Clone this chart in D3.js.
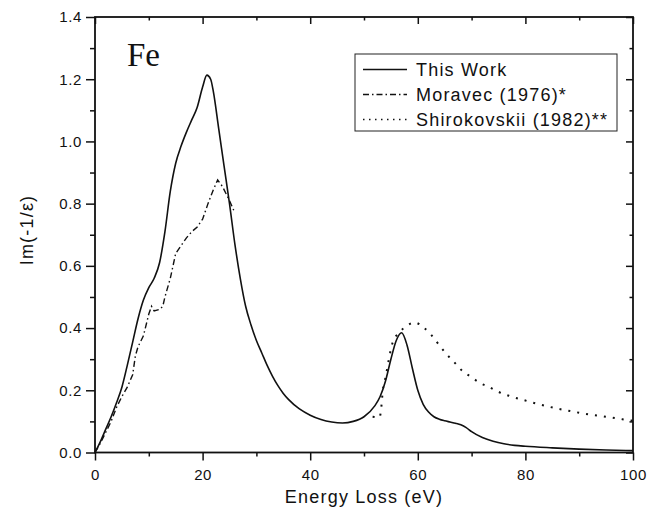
<!DOCTYPE html>
<html>
<head>
<meta charset="utf-8">
<script src="https://cdn.jsdelivr.net/npm/d3@7"></script>
<style>
  body { margin: 0; background: #fff; }
  svg { display: block; font-family: "Liberation Sans", Arial, Helvetica, sans-serif; }
</style>
</head>
<body>
<div id="chart"></div>
<script>
// "This Work" curve
const workE = [0, 1, 2, 3, 4, 5, 6, 7, 8, 9, 10, 11, 12, 13, 14, 15, 16, 17, 18, 19, 20, 20.8, 21.5, 22, 23, 24, 25, 26, 27, 28, 29, 30, 31, 32, 33, 34, 35, 36, 38, 40, 42, 44, 46, 48, 50, 52, 53, 54, 55, 56, 57, 58, 59, 60, 61, 62, 63, 64, 65, 66, 67, 68, 69, 70, 72, 74, 76, 78, 80, 85, 90, 95, 100];
const workV = [0, 0.035, 0.075, 0.115, 0.16, 0.21, 0.28, 0.355, 0.43, 0.49, 0.53, 0.56, 0.61, 0.71, 0.84, 0.93, 0.985, 1.03, 1.07, 1.11, 1.175, 1.213, 1.2, 1.16, 1.04, 0.92, 0.8, 0.67, 0.56, 0.47, 0.41, 0.36, 0.32, 0.28, 0.245, 0.215, 0.19, 0.17, 0.14, 0.12, 0.106, 0.098, 0.095, 0.1, 0.115, 0.15, 0.18, 0.23, 0.3, 0.36, 0.385, 0.345, 0.27, 0.2, 0.155, 0.13, 0.115, 0.107, 0.102, 0.098, 0.094, 0.089, 0.08, 0.067, 0.048, 0.036, 0.028, 0.023, 0.02, 0.015, 0.011, 0.008, 0.006];

// Moravec (1976)
const moravecE = [0, 1, 2, 3, 4, 5, 6, 7, 7.5, 8, 9, 10, 10.5, 11, 12, 12.6, 13, 14, 15, 16, 17, 18, 19, 20, 21, 22, 22.8, 23.7, 25, 26];
const moravecV = [0, 0.03, 0.065, 0.1, 0.145, 0.18, 0.21, 0.25, 0.31, 0.34, 0.375, 0.445, 0.47, 0.455, 0.46, 0.47, 0.5, 0.56, 0.64, 0.665, 0.69, 0.71, 0.725, 0.75, 0.8, 0.845, 0.876, 0.855, 0.81, 0.77];

// Shirokovskii (1982)
const shiroE = [51.6, 52.9, 53.2, 53.5, 53.9, 55.3, 56.5, 57.8, 59.4, 61.2, 62.5, 63.8, 65.2, 66.8, 68.3, 70, 71.5, 73.3, 75, 77, 80, 83, 86, 89, 92, 95, 98, 100];
const shiroV = [0.115, 0.113, 0.143, 0.2, 0.233, 0.352, 0.385, 0.405, 0.418, 0.4, 0.378, 0.349, 0.319, 0.29, 0.262, 0.242, 0.224, 0.21, 0.195, 0.182, 0.167, 0.153, 0.141, 0.131, 0.122, 0.115, 0.107, 0.102];

const xMajor = [0, 20, 40, 60, 80, 100];
const xMinor = [10, 30, 50, 70, 90];
const yMajor = [0, 0.2, 0.4, 0.6, 0.8, 1.0, 1.2, 1.4];
const yMinor = [0.1, 0.3, 0.5, 0.7, 0.9, 1.1, 1.3];

const legendNames = ["This Work", "Moravec (1976)*", "Shirokovskii (1982)**"];
const legendDash = [null, "6,3,1.5,3", "1.5,4.5"];

const W = 649, H = 521;
const mLeft = 95, mRight = 633, mTop = 17, mBottom = 452.5;

const svg = d3.select("#chart").append("svg")
  .attr("width", W)
  .attr("height", H);

const x = d3.scaleLinear().domain([0, 100]).range([mLeft, mRight]);
const y = d3.scaleLinear().domain([0, 1.4]).range([mBottom, mTop]);

// axes - bottom / left outward, top / right inward
function styleAxis(g) {
  g.select(".domain").remove();
  g.selectAll("line").attr("stroke", "#111").attr("stroke-width", 1.5);
  g.selectAll("text")
    .attr("fill", "#111")
    .style("font-size", "15px")
    .style("letter-spacing", "0.6px");
}

svg.append("g").attr("transform", `translate(0,${mBottom})`)
  .call(d3.axisBottom(x).tickValues(xMajor).tickSize(8).tickPadding(9).tickFormat(d3.format("d")))
  .call(styleAxis);
svg.append("g").attr("transform", `translate(0,${mBottom})`)
  .call(d3.axisBottom(x).tickValues(xMinor).tickSize(4).tickFormat(""))
  .call(styleAxis);

svg.append("g").attr("transform", `translate(${mLeft},0)`)
  .call(d3.axisLeft(y).tickValues(yMajor).tickSize(9).tickPadding(4).tickFormat(d3.format(".1f")))
  .call(styleAxis);
svg.append("g").attr("transform", `translate(${mLeft},0)`)
  .call(d3.axisLeft(y).tickValues(yMinor).tickSize(5).tickFormat(""))
  .call(styleAxis);

svg.append("g").attr("transform", `translate(0,${mTop})`)
  .call(d3.axisTop(x).tickValues(xMajor).tickSize(-7).tickFormat(""))
  .call(styleAxis);
svg.append("g").attr("transform", `translate(0,${mTop})`)
  .call(d3.axisTop(x).tickValues(xMinor).tickSize(-3.5).tickFormat(""))
  .call(styleAxis);

svg.append("g").attr("transform", `translate(${mRight},0)`)
  .call(d3.axisRight(y).tickValues(yMajor).tickSize(-7).tickFormat(""))
  .call(styleAxis);
svg.append("g").attr("transform", `translate(${mRight},0)`)
  .call(d3.axisRight(y).tickValues(yMinor).tickSize(-3.5).tickFormat(""))
  .call(styleAxis);

// frame
svg.append("rect")
  .attr("x", mLeft).attr("y", mTop)
  .attr("width", mRight - mLeft).attr("height", mBottom - mTop)
  .attr("fill", "none")
  .attr("stroke", "#111")
  .attr("stroke-width", 1.8);

// curves
const line = d3.line()
  .x(d => x(d[0]))
  .y(d => y(d[1]));

const zip = (a, b) => a.map((v, i) => [v, b[i]]);

svg.append("path")
  .datum(zip(workE, workV))
  .attr("fill", "none")
  .attr("stroke", "#111")
  .attr("stroke-width", 1.6)
  .attr("d", line.curve(d3.curveMonotoneX));

svg.append("path")
  .datum(zip(moravecE, moravecV))
  .attr("fill", "none")
  .attr("stroke", "#111")
  .attr("stroke-width", 1.4)
  .attr("stroke-dasharray", legendDash[1])
  .attr("d", line.curve(d3.curveLinear));

svg.append("path")
  .datum(zip(shiroE, shiroV))
  .attr("fill", "none")
  .attr("stroke", "#111")
  .attr("stroke-width", 2)
  .attr("stroke-dasharray", "2,7")
  .attr("d", line.curve(d3.curveMonotoneX));

// axis titles
svg.append("text")
  .attr("x", (mLeft + mRight) / 2)
  .attr("y", 503)
  .attr("text-anchor", "middle")
  .style("font-size", "18px")
  .style("letter-spacing", "1.2px")
  .attr("fill", "#111")
  .text("Energy Loss (eV)");

svg.append("text")
  .attr("transform", `translate(33,230) rotate(-90)`)
  .attr("text-anchor", "middle")
  .style("font-size", "18px")
  .style("letter-spacing", "1.2px")
  .attr("fill", "#111")
  .text("Im(-1/ε)");

svg.append("text")
  .attr("x", 127)
  .attr("y", 66)
  .style("font-family", "'Liberation Serif', 'Times New Roman', serif")
  .style("font-size", "33px")
  .attr("fill", "#111")
  .text("Fe");

// legend
const legend = svg.append("g");
legend.append("rect")
  .attr("x", 355).attr("y", 54)
  .attr("width", 262).attr("height", 77)
  .attr("fill", "#fff")
  .attr("stroke", "#222")
  .attr("stroke-width", 1);

legendNames.forEach((name, i) => {
  const ly = 69.5 + i * 25;
  legend.append("line")
    .attr("x1", 363).attr("x2", 407)
    .attr("y1", ly).attr("y2", ly)
    .attr("stroke", "#111")
    .attr("stroke-width", 1.4)
    .attr("stroke-dasharray", legendDash[i]);
  legend.append("text")
    .attr("x", 416)
    .attr("y", ly + 6.5)
    .style("font-size", "18px")
    .style("letter-spacing", "1.2px")
    .attr("fill", "#111")
    .text(name);
});
</script>
</body>
</html>
